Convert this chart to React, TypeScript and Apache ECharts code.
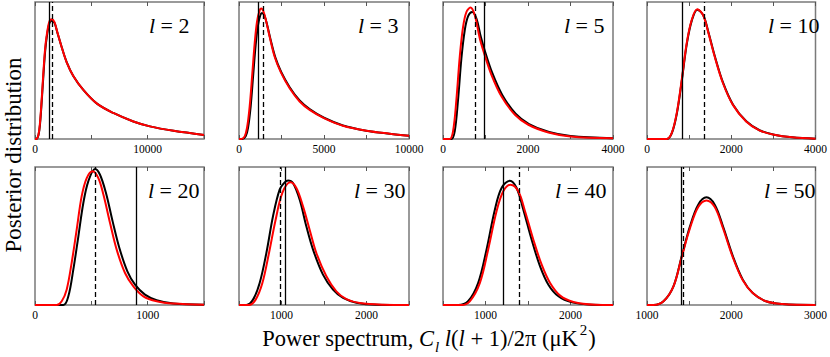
import React, { useEffect, useRef } from 'react';
import * as echarts from 'echarts';

// ---- data ----
const multipoles = ['2', '3', '5', '10', '20', '30', '40', '50'];
const xMin = [0, 0, 0, 0, 0, 500, 500, 1000];
const xMax = [15000, 10000, 4000, 4000, 1500, 2500, 2500, 3000];
const tickStep = [5000, 2500, 1000, 1000, 500, 500, 500, 500];
const labelStep = [10000, 5000, 2000, 2000, 1000, 1000, 1000, 1000];
const solidLineAt = [1243, 1117, 968, 847, 902, 1045, 1213, 1408];
const dashedLineAt = [1568, 1411, 748, 1365, 535, 990, 1394, 1431];

const red2 = [[0, 0], [90, 0], [300, 0.03], [440, 0.116], [590, 0.286], [740, 0.48], [890, 0.65], [1040, 0.758], [1270, 0.855], [1480, 0.874], [1720, 0.855], [1980, 0.78], [2370, 0.67], [2810, 0.56], [3400, 0.46], [4290, 0.358], [5470, 0.26], [6950, 0.19], [8730, 0.128], [10200, 0.092], [12300, 0.06], [15000, 0.03]];
const black2 = [[0, 0], [100, 0], [310, 0.03], [450, 0.112], [600, 0.28], [750, 0.47], [900, 0.64], [1050, 0.748], [1280, 0.845], [1490, 0.864], [1730, 0.848], [1990, 0.776], [2380, 0.668], [2820, 0.56], [3400, 0.46], [4290, 0.358], [5470, 0.26], [6950, 0.19], [8730, 0.128], [10200, 0.092], [12300, 0.06], [15000, 0.03]];

const red3 = [[0, 0], [137, 0], [333, 0.019], [470, 0.08], [627, 0.237], [784, 0.479], [921, 0.697], [1058, 0.855], [1215, 0.939], [1313, 0.952], [1450, 0.927], [1607, 0.855], [1803, 0.746], [2097, 0.6], [2450, 0.49], [2979, 0.37], [3567, 0.274], [4155, 0.213], [4998, 0.153], [6115, 0.097], [7487, 0.061], [8859, 0.039], [10000, 0.024]];
const black3 = [[0, 0], [196, 0], [392, 0.019], [529, 0.08], [686, 0.237], [843, 0.479], [980, 0.685], [1117, 0.83], [1254, 0.903], [1352, 0.92], [1490, 0.903], [1646, 0.838], [1842, 0.734], [2136, 0.596], [2489, 0.487], [2979, 0.378], [3567, 0.281], [4155, 0.218], [4998, 0.155], [6115, 0.099], [7487, 0.061], [8859, 0.039], [10000, 0.024]];

const red5 = [[0, 0], [157, 0], [236, 0.056], [315, 0.286], [394, 0.6], [472, 0.818], [551, 0.927], [646, 0.959], [748, 0.903], [866, 0.734], [969, 0.625], [1142, 0.467], [1378, 0.31], [1693, 0.177], [2008, 0.104], [2480, 0.048], [3000, 0.019], [4000, 0.005]];
const black5 = [[0, 0], [197, 0], [276, 0.056], [354, 0.286], [433, 0.588], [512, 0.794], [591, 0.896], [685, 0.927], [787, 0.879], [890, 0.746], [984, 0.644], [1157, 0.484], [1394, 0.322], [1709, 0.184], [2024, 0.109], [2496, 0.051], [3000, 0.022], [4000, 0.005]];

const red10 = [[0, 0], [471, 0], [588, 0.044], [706, 0.189], [824, 0.431], [941, 0.697], [1059, 0.867], [1192, 0.947], [1333, 0.903], [1451, 0.782], [1608, 0.6], [1804, 0.407], [2039, 0.249], [2353, 0.128], [2667, 0.063], [3020, 0.031], [3451, 0.012], [4000, 0.002]];
const black10 = [[0, 0], [475, 0], [592, 0.044], [710, 0.188], [828, 0.43], [945, 0.694], [1063, 0.864], [1196, 0.944], [1337, 0.902], [1455, 0.783], [1612, 0.602], [1808, 0.409], [2043, 0.25], [2357, 0.129], [2671, 0.064], [3020, 0.031], [3451, 0.012], [4000, 0.002]];

const red20 = [[0, 0], [192, 0], [237, 0.027], [281, 0.111], [325, 0.304], [370, 0.546], [414, 0.787], [459, 0.92], [512, 0.969], [562, 0.92], [607, 0.8], [666, 0.594], [725, 0.401], [799, 0.232], [873, 0.135], [962, 0.063], [1080, 0.027], [1228, 0.01], [1500, 0.002]];
const black20 = [[0, 0], [252, 0], [296, 0.063], [340, 0.256], [385, 0.498], [429, 0.739], [473, 0.896], [533, 0.986], [577, 0.944], [630, 0.812], [689, 0.606], [749, 0.413], [820, 0.244], [888, 0.147], [976, 0.075], [1080, 0.034], [1228, 0.01], [1500, 0.002]];

const red30 = [[500, 0], [618, 0], [696, 0.039], [775, 0.159], [853, 0.377], [931, 0.618], [1010, 0.812], [1104, 0.889], [1175, 0.848], [1253, 0.715], [1331, 0.546], [1410, 0.377], [1528, 0.208], [1645, 0.099], [1763, 0.043], [1920, 0.014], [2194, 0.002], [2500, 0]];
const black30 = [[500, 0], [586, 0], [665, 0.039], [743, 0.159], [822, 0.377], [900, 0.643], [978, 0.836], [1037, 0.889], [1077, 0.903], [1135, 0.884], [1214, 0.763], [1292, 0.57], [1371, 0.401], [1488, 0.22], [1606, 0.111], [1724, 0.051], [1881, 0.017], [2116, 0.002], [2500, 0]];

const red40 = [[500, 0], [717, 0], [815, 0.027], [933, 0.159], [1031, 0.401], [1130, 0.679], [1209, 0.824], [1295, 0.872], [1386, 0.824], [1465, 0.679], [1563, 0.473], [1661, 0.292], [1760, 0.159], [1878, 0.068], [2035, 0.022], [2291, 0.002], [2500, 0]];
const black40 = [[500, 0], [677, 0], [795, 0.027], [913, 0.159], [1012, 0.401], [1110, 0.691], [1189, 0.848], [1287, 0.901], [1366, 0.848], [1445, 0.691], [1543, 0.473], [1642, 0.28], [1740, 0.147], [1858, 0.063], [2016, 0.019], [2252, 0.002], [2500, 0]];

const red50 = [[1000, 0], [1078, 0], [1196, 0.027], [1314, 0.135], [1412, 0.348], [1510, 0.556], [1608, 0.71], [1706, 0.758], [1804, 0.71], [1902, 0.556], [2020, 0.343], [2137, 0.179], [2255, 0.087], [2412, 0.027], [2608, 0.007], [3000, 0]];
const black50 = [[1000, 0], [1078, 0], [1196, 0.027], [1314, 0.135], [1412, 0.353], [1510, 0.57], [1608, 0.727], [1706, 0.78], [1804, 0.727], [1902, 0.57], [2020, 0.353], [2137, 0.184], [2255, 0.087], [2412, 0.027], [2608, 0.007], [3000, 0]];

const blackCurves = [black2, black3, black5, black10, black20, black30, black40, black50];
const redCurves = [red2, red3, red5, red10, red20, red30, red40, red50];

// ---- layout ----
const colLeft = [35, 239, 443, 647];
const colWidth = [169, 170, 170, 170];
const rowTop = [2, 167];
const rowHeight = [137, 138];
const labelX = [149, 358, 564, 768, 148, 354, 555, 764];
const SERIF = 'Liberation Serif';

export default function App() {
  const ref = useRef<HTMLDivElement>(null);
  useEffect(() => {
    if (!ref.current) return;
    const chart = echarts.init(ref.current, undefined, { renderer: 'svg' });
    const grid: any[] = [];
    const xAxis: any[] = [];
    const yAxis: any[] = [];
    const series: any[] = [];
    const graphic: any[] = [];
    for (let i = 0; i < 8; i++) {
      const r = Math.floor(i / 4);
      const c = i % 4;
      grid.push({
        left: colLeft[c], top: rowTop[r], width: colWidth[c], height: rowHeight[r],
        show: true, borderColor: '#7a7a7a', borderWidth: 1.5, backgroundColor: 'transparent',
      });
      const step = labelStep[i];
      const common = {
        type: 'value', gridIndex: i, min: xMin[i], max: xMax[i], interval: tickStep[i],
        axisLine: { show: false }, splitLine: { show: false },
        axisTick: { show: true, inside: true, length: 4, lineStyle: { color: '#555', width: 1 } },
      };
      xAxis.push({
        ...common, position: 'bottom',
        axisLabel: {
          show: true, margin: 4, fontSize: 11.5, fontFamily: SERIF, color: '#000',
          formatter: (v: number) => (Math.abs(v % step) < 1e-6 ? String(v) : ''),
        },
      });
      xAxis.push({ ...common, position: 'top', axisLabel: { show: false } });
      yAxis.push({
        type: 'value', gridIndex: i, min: 0, max: 1,
        axisLine: { show: false }, axisTick: { show: false }, axisLabel: { show: false }, splitLine: { show: false },
      });
      series.push({
        type: 'line', xAxisIndex: 2 * i, yAxisIndex: i, data: blackCurves[i], showSymbol: false,
        smooth: 0.35, lineStyle: { color: '#000', width: 2 }, z: 2,
        markLine: {
          silent: true, symbol: ['none', 'none'], label: { show: false },
          lineStyle: { color: '#000', width: 1.3 },
          data: [
            { xAxis: solidLineAt[i], lineStyle: { type: 'solid', color: '#000', width: 1.3 } },
            { xAxis: dashedLineAt[i], lineStyle: { type: [5, 3], color: '#000', width: 1.3 } },
          ],
        },
      });
      series.push({
        type: 'line', xAxisIndex: 2 * i, yAxisIndex: i, data: redCurves[i], showSymbol: false,
        smooth: 0.35, lineStyle: { color: '#ff0000', width: 2 }, z: 3,
      });
      graphic.push({
        type: 'text', left: labelX[i], top: rowTop[r] + 12,
        style: {
          text: '{i|l}{n| = ' + multipoles[i] + '}',
          rich: {
            i: { fontFamily: SERIF, fontSize: 22, fontStyle: 'italic', fill: '#000' },
            n: { fontFamily: SERIF, fontSize: 22, fill: '#000' },
          },
        },
      });
    }
    graphic.push({
      type: 'text', x: 13, y: 155, rotation: Math.PI / 2,
      style: {
        text: 'Posterior distribution', fontFamily: SERIF, fontSize: 23, fill: '#000',
        align: 'center', verticalAlign: 'middle',
      },
    });
    graphic.push({
      type: 'text', x: 429, y: 338,
      style: {
        text: '{n|Power spectrum, }{i|C}{sub|l}{n| }{i|l}{n|(}{i|l}{n| + 1)/2π (μK}{sup|2}{n|)}',
        align: 'center', verticalAlign: 'middle',
        rich: {
          n: { fontFamily: SERIF, fontSize: 22.5, lineHeight: 32, fill: '#000' },
          i: { fontFamily: SERIF, fontSize: 22.5, lineHeight: 32, fontStyle: 'italic', fill: '#000' },
          sub: { fontFamily: SERIF, fontSize: 15, lineHeight: 15, fontStyle: 'italic', verticalAlign: 'bottom', fill: '#000', padding: [0, 0, 0, 1] },
          sup: { fontFamily: SERIF, fontSize: 15, lineHeight: 15, verticalAlign: 'top', fill: '#000', padding: [0, 1, 0, 2] },
        },
      },
    });
    chart.setOption({ animation: false, grid, xAxis, yAxis, series, graphic });
    return () => chart.dispose();
  }, []);
  return <div ref={ref} style={{ position: 'fixed', left: 0, top: 0, width: 830, height: 357, background: '#fff' }} />;
}
